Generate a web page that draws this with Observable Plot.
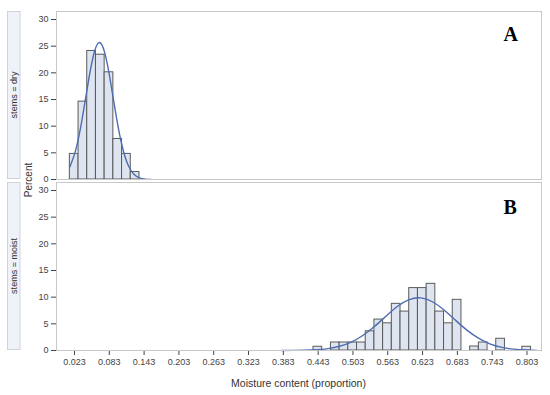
<!DOCTYPE html>
<html>
<head>
<meta charset="utf-8">
<script src="https://cdn.jsdelivr.net/npm/d3@7"></script>
<script src="https://cdn.jsdelivr.net/npm/@observablehq/plot@0.6"></script>
<style>
  html, body { margin: 0; padding: 0; background: #fff; }
  #chart { width: 550px; height: 395px; }
</style>
</head>
<body>
<div id="chart"></div>
<script>
// ---- data ----
const panels = ["dry", "moist"];
const panelLetters = ["A", "B"];
const xTicks = [0.023, 0.083, 0.143, 0.203, 0.263, 0.323, 0.383, 0.443, 0.503, 0.563, 0.623, 0.683, 0.743, 0.803];
const yTicks = [0, 5, 10, 15, 20, 25, 30];
const binWidth = 0.015;

const dryBinStart = [0.015, 0.030, 0.045, 0.060, 0.075, 0.090, 0.105, 0.120];
const dryPercent  = [4.8, 14.6, 24.1, 23.4, 20.1, 7.6, 4.8, 1.4];

const moistBinStart = [0.435, 0.465, 0.480, 0.495, 0.510, 0.525, 0.540, 0.555, 0.570, 0.585,
                       0.600, 0.615, 0.630, 0.645, 0.660, 0.675, 0.705, 0.720, 0.750, 0.795];
const moistPercent  = [0.7, 1.5, 1.5, 1.5, 1.5, 3.6, 5.8, 5.1, 8.75, 7.3,
                       11.7, 11.7, 12.5, 7.3, 5.1, 9.5, 0.75, 1.5, 2.2, 0.7];

// fitted normal curves
const dryCurveX = [0.015, 0.025, 0.035, 0.045, 0.055, 0.065, 0.075, 0.085, 0.095, 0.105, 0.115, 0.125, 0.135, 0.145, 0.155];
const dryCurveY = [2.34, 5.46, 10.6, 17.1, 22.97, 25.66, 23.83, 18.42, 11.83, 6.33, 2.81, 1.04, 0.32, 0.08, 0.02];

const moistCurveX = [0.38, 0.40, 0.42, 0.44, 0.46, 0.48, 0.50, 0.52, 0.54, 0.56, 0.58, 0.60,
                     0.62, 0.64, 0.66, 0.68, 0.70, 0.72, 0.74, 0.76, 0.78, 0.80, 0.82];
const moistCurveY = [0.005, 0.017, 0.05, 0.14, 0.36, 0.79, 1.57, 2.81, 4.49, 6.44, 8.29, 9.55,
                     9.87, 9.14, 7.59, 5.65, 3.77, 2.26, 1.21, 0.58, 0.25, 0.10, 0.03];

// ---- tables for Plot ----
const bars = [
  ...dryBinStart.map((s, i) => ({stems: "dry", x1: s, x2: s + binWidth, pct: dryPercent[i]})),
  ...moistBinStart.map((s, i) => ({stems: "moist", x1: s, x2: s + binWidth, pct: moistPercent[i]}))
];
const curves = [
  ...dryCurveX.map((x, i) => ({stems: "dry", x, y: dryCurveY[i]})),
  ...moistCurveX.map((x, i) => ({stems: "moist", x, y: moistCurveY[i]}))
];
const letters = panels.map((p, i) => ({stems: p, letter: panelLetters[i]}));

const plot = Plot.plot({
  width: 550,
  height: 395,
  marginLeft: 56,
  marginRight: 9,
  marginTop: 10,
  marginBottom: 45,
  style: {fontFamily: "'Liberation Sans', Arial, sans-serif", fontSize: "9px", color: "#444", background: "#fff"},
  x: {domain: [-0.008, 0.828], ticks: xTicks, tickFormat: d3.format(".3f"), tickSize: 5, tickPadding: 3, label: null},
  y: {domain: [0, 31.5], ticks: yTicks, tickSize: 5, tickPadding: 3, label: null},
  fy: {domain: panels, paddingInner: 0.0204, paddingOuter: 0, axis: null, label: null},
  marks: [
    Plot.rectY(bars, {x1: "x1", x2: "x2", y: "pct", fy: "stems", fill: "#dee5f1", stroke: "#5a5a5a", strokeWidth: 1}),
    Plot.line(curves, {x: "x", y: "y", fy: "stems", z: "stems", stroke: "#4d6db0", strokeWidth: 1.4, curve: "natural"}),
    Plot.frame({stroke: "#c8c8c8"}),
    Plot.text(letters.slice(0, 1), {fy: "stems", text: "letter", frameAnchor: "top-right", textAnchor: "start",
      lineAnchor: "bottom", dx: -38, dy: 29, fontSize: 20, fontWeight: "bold", fontFamily: "'Liberation Serif', 'DejaVu Serif', serif", fill: "#000"}),
    Plot.text(letters.slice(1, 2), {fy: "stems", text: "letter", frameAnchor: "top-right", textAnchor: "start",
      lineAnchor: "bottom", dx: -38, dy: 31, fontSize: 20, fontWeight: "bold", fontFamily: "'Liberation Serif', 'DejaVu Serif', serif", fill: "#000"})
  ]
});

// ---- strip labels, shared y title, x title ----
const svg = d3.select(plot);
const fy = plot.scale("fy");
const bw = fy.bandwidth;
const deco = svg.insert("g", ":first-child");
panels.forEach(p => {
  const top = fy.apply(p);
  deco.append("rect")
    .attr("x", 7.5).attr("y", top + 0.5)
    .attr("width", 12.5).attr("height", bw - 1)
    .attr("fill", "#eff2f9").attr("stroke", "#cfd3d9");
  deco.append("text")
    .attr("transform", `translate(14,${top + bw / 2}) rotate(-90)`)
    .attr("text-anchor", "middle").attr("dominant-baseline", "central")
    .attr("font-size", 9).attr("fill", "#333")
    .text("stems = " + p);
});
const fyRange = fy.range;
svg.append("text")
  .attr("transform", `translate(28.5,${(fyRange[0] + fyRange[1]) / 2}) rotate(-90)`)
  .attr("text-anchor", "middle").attr("dominant-baseline", "central")
  .attr("font-size", 10).attr("fill", "#333")
  .text("Percent");
const xr = plot.scale("x").range;
svg.append("text")
  .attr("x", (xr[0] + xr[1]) / 2).attr("y", 383)
  .attr("text-anchor", "middle").attr("dominant-baseline", "central")
  .attr("font-size", 10.5).attr("fill", "#333")
  .text("Moisture content (proportion)");

document.getElementById("chart").appendChild(plot);
</script>
</body>
</html>
